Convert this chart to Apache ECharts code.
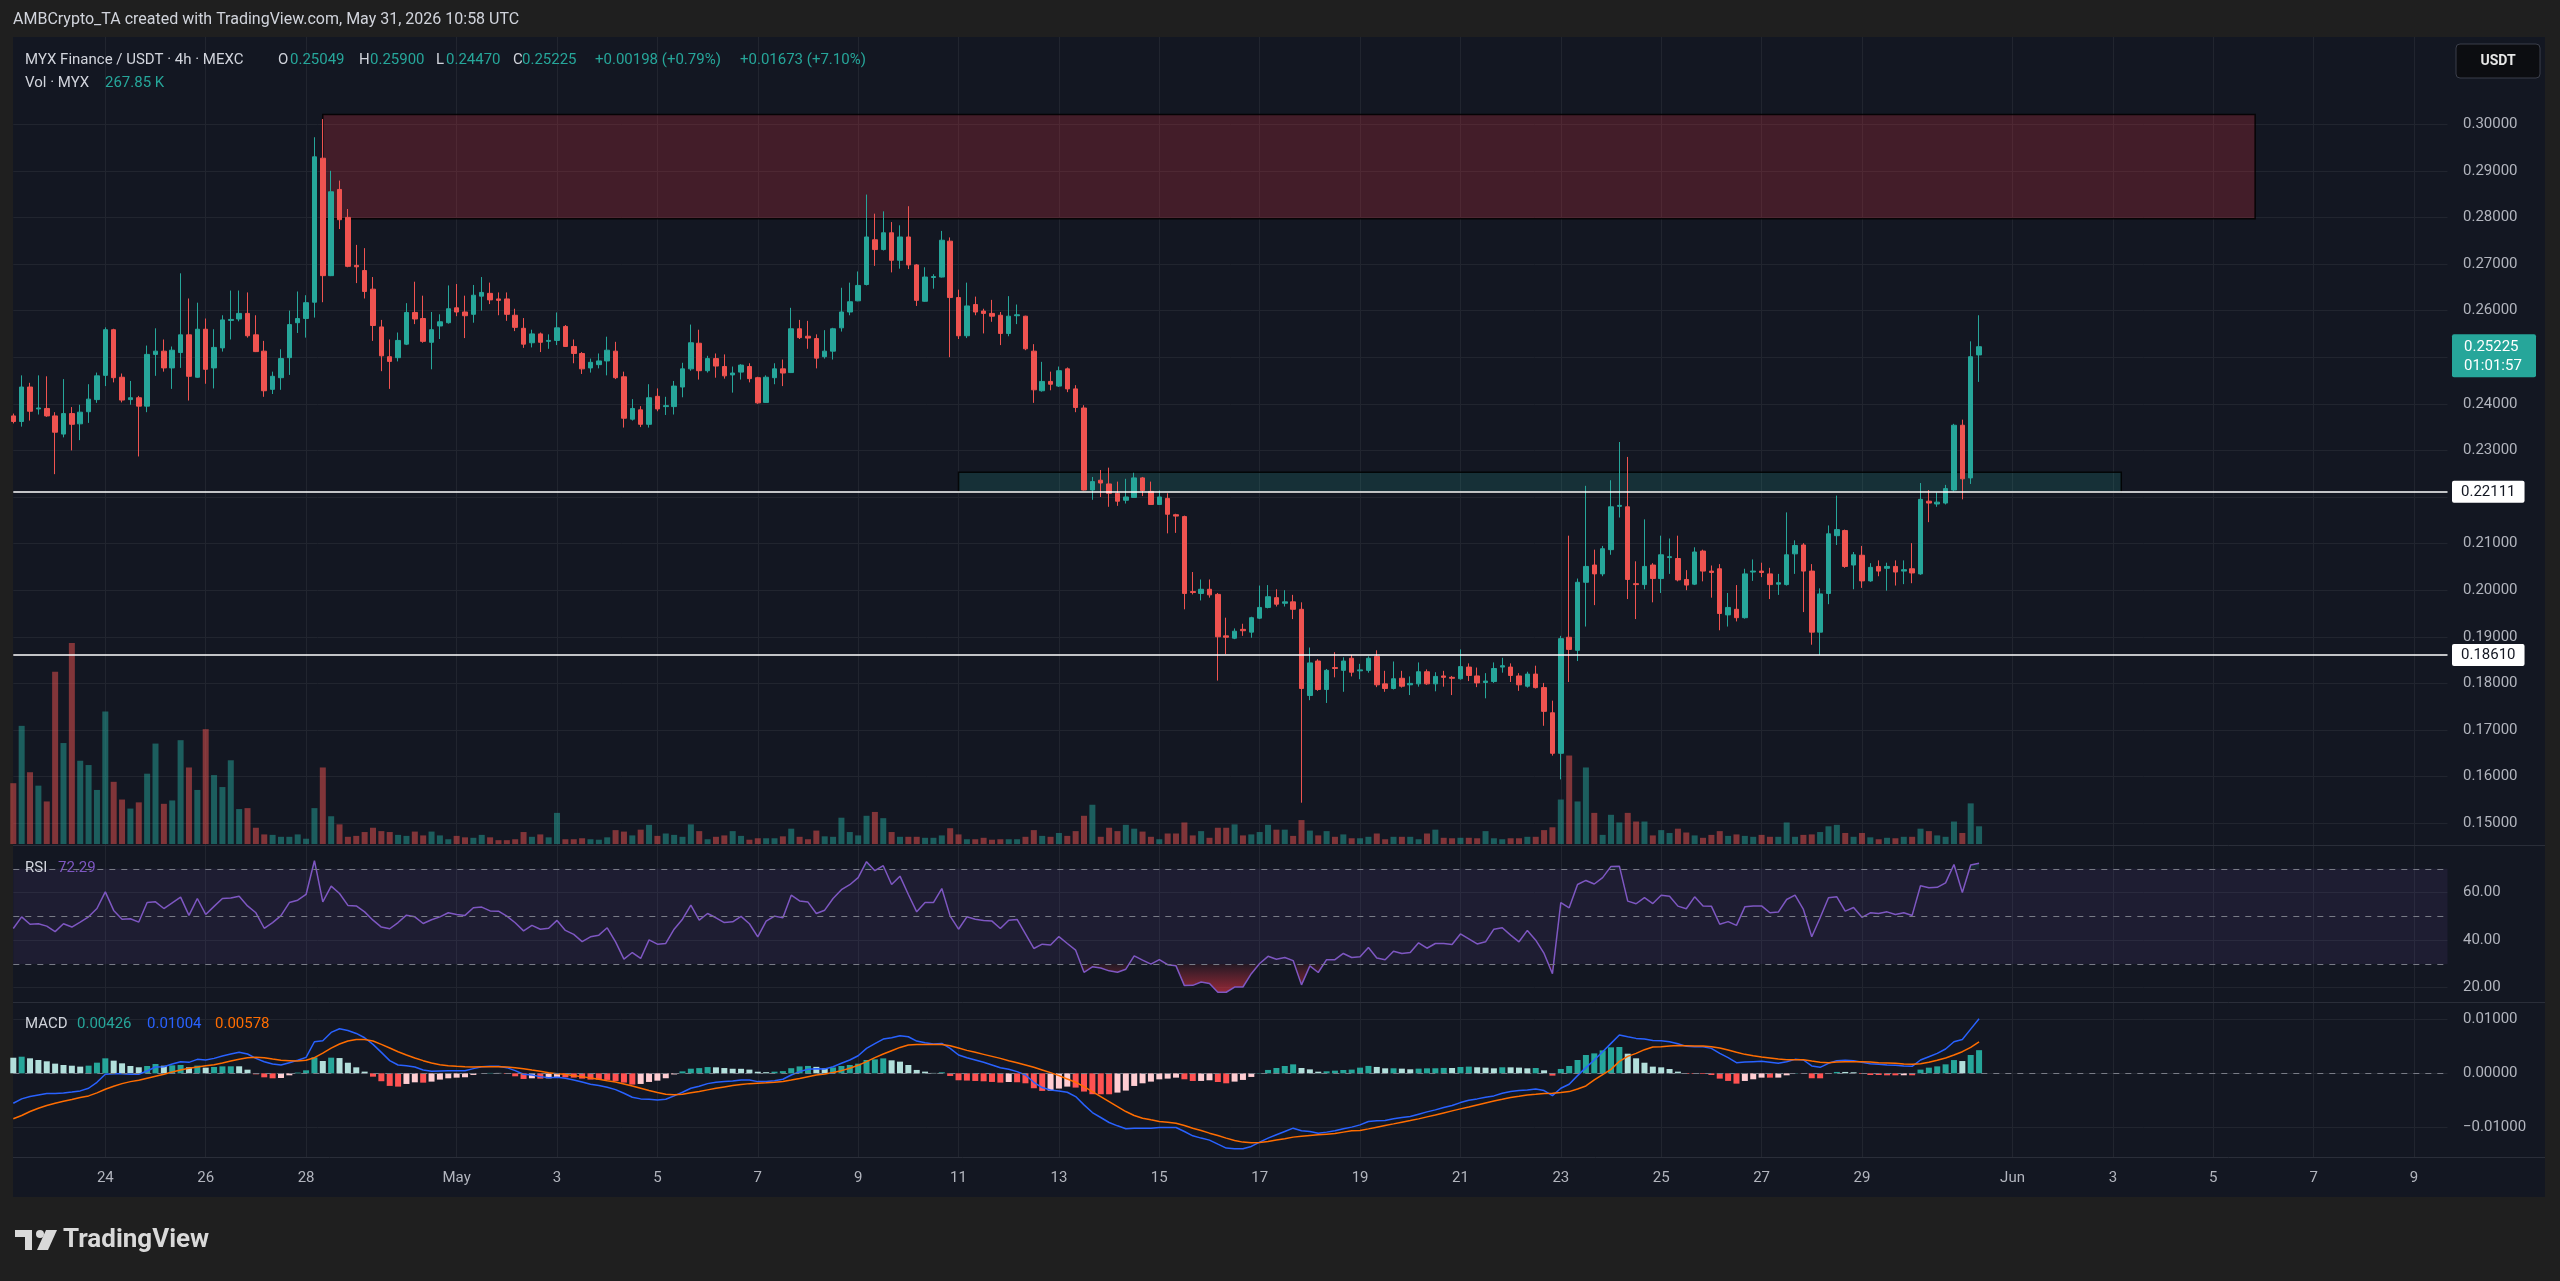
<!DOCTYPE html>
<html><head><meta charset="utf-8">
<script src="https://cdn.jsdelivr.net/npm/echarts@6/dist/echarts.min.js"></script>
<style>html,body{margin:0;padding:0;background:#1f1f1f;}#c{width:2560px;height:1281px;}</style>
</head><body><div id="c"></div>
<script>
// ---------------- DATA ----------------
const FIRST_BAR_UTC = Date.UTC(2026, 3, 22, 4);   // first 4h slot shown
const SLOT_COUNT = 292;                           // slots on the time axis (incl. empty future)
const tickDates = ['2026-04-24 00:00','2026-04-26 00:00','2026-04-28 00:00','2026-05-01 00:00','2026-05-03 00:00','2026-05-05 00:00','2026-05-07 00:00','2026-05-09 00:00','2026-05-11 00:00','2026-05-13 00:00','2026-05-15 00:00','2026-05-17 00:00','2026-05-19 00:00','2026-05-21 00:00','2026-05-23 00:00','2026-05-25 00:00','2026-05-27 00:00','2026-05-29 00:00','2026-06-01 00:00','2026-06-03 00:00','2026-06-05 00:00','2026-06-07 00:00','2026-06-09 00:00'];
const tickLabels = ['24','26','28','May','3','5','7','9','11','13','15','17','19','21','23','25','27','29','Jun','3','5','7','9'];
const priceTicks = [0.15,0.16,0.17,0.18,0.19,0.20,0.21,0.22,0.23,0.24,0.25,0.26,0.27,0.28,0.29,0.30];
const rsiTicks = [20,40,60];
const macdTicks = [-0.01,0,0.01];

const openP = [0.2374,
0.2362,0.2436,0.2389,0.2390,0.2374,0.2335,0.2379,0.2357,0.2383,0.2409,
0.2461,0.2559,0.2457,0.2409,0.2413,0.2395,0.2506,0.2513,0.2477,0.2510,
0.2548,0.2457,0.2560,0.2477,0.2520,0.2579,0.2582,0.2594,0.2548,0.2513,
0.2431,0.2456,0.2499,0.2574,0.2583,0.2618,0.2927,0.2675,0.2860,0.2800,
0.2697,0.2686,0.2646,0.2565,0.2501,0.2499,0.2528,0.2596,0.2583,0.2532,
0.2567,0.2574,0.2606,0.2597,0.2592,0.2631,0.2637,0.2625,0.2625,0.2590,
0.2562,0.2531,0.2550,0.2534,0.2536,0.2566,0.2523,0.2508,0.2477,0.2484,
0.2492,0.2513,0.2458,0.2367,0.2387,0.2356,0.2416,0.2394,0.2394,0.2436,
0.2475,0.2530,0.2471,0.2497,0.2480,0.2462,0.2468,0.2480,0.2456,0.2403,
0.2456,0.2475,0.2467,0.2561,0.2545,0.2540,0.2501,0.2513,0.2563,0.2597,
0.2621,0.2656,0.2752,0.2731,0.2767,0.2708,0.2758,0.2698,0.2620,0.2671,
0.2672,0.2749,0.2628,0.2546,0.2613,0.2599,0.2594,0.2590,0.2551,0.2589,
0.2588,0.2513,0.2428,0.2448,0.2438,0.2475,0.2432,0.2391,0.2215,0.2236,
0.2228,0.2208,0.2193,0.2199,0.2241,0.2212,0.2184,0.2197,0.2162,0.2158,
0.1997,0.1993,0.2002,0.1991,0.1902,0.1897,0.1916,0.1910,0.1940,0.1963,
0.1984,0.1972,0.1975,0.1959,0.1774,0.1848,0.1787,0.1834,0.1828,0.1854,
0.1827,0.1828,0.1858,0.1799,0.1789,0.1811,0.1797,0.1799,0.1825,0.1799,
0.1816,0.1813,0.1810,0.1835,0.1816,0.1802,0.1804,0.1835,0.1835,0.1816,
0.1794,0.1820,0.1791,0.1737,0.1650,0.1899,0.1871,0.2017,0.2054,0.2035,
0.2087,0.2180,0.2179,0.2014,0.2012,0.2054,0.2025,0.2070,0.2068,0.2023,
0.2013,0.2084,0.2041,0.2046,0.1947,0.1959,0.1941,0.2039,0.2041,0.2035,
0.2013,0.2012,0.2078,0.2097,0.2041,0.1910,0.1993,0.2117,0.2128,0.2054,
0.2075,0.2020,0.2051,0.2047,0.2051,0.2041,0.2046,0.2035,0.2191,0.2185,
0.2187,0.2215,0.2354,0.2241,0.25049];
const highP = [0.2379,
0.2461,0.2445,0.2461,0.2459,0.2382,0.2453,0.2393,0.2398,0.2442,0.2467,
0.2564,0.2561,0.2465,0.2449,0.2417,0.2525,0.2562,0.2538,0.2523,0.2680,
0.2626,0.2617,0.2583,0.2560,0.2590,0.2643,0.2643,0.2639,0.2590,0.2535,
0.2469,0.2517,0.2600,0.2641,0.2633,0.2972,0.3011,0.2900,0.2879,0.2818,
0.2741,0.2734,0.2672,0.2580,0.2538,0.2553,0.2616,0.2662,0.2632,0.2597,
0.2592,0.2654,0.2657,0.2632,0.2655,0.2672,0.2660,0.2639,0.2639,0.2604,
0.2584,0.2559,0.2553,0.2549,0.2596,0.2569,0.2538,0.2511,0.2497,0.2508,
0.2544,0.2533,0.2469,0.2410,0.2395,0.2442,0.2433,0.2415,0.2449,0.2488,
0.2570,0.2559,0.2503,0.2508,0.2506,0.2480,0.2485,0.2487,0.2458,0.2461,
0.2487,0.2495,0.2606,0.2580,0.2578,0.2549,0.2558,0.2563,0.2649,0.2660,
0.2684,0.2849,0.2808,0.2813,0.2790,0.2783,0.2824,0.2700,0.2693,0.2678,
0.2771,0.2757,0.2645,0.2660,0.2630,0.2604,0.2623,0.2597,0.2631,0.2613,
0.2589,0.2528,0.2490,0.2469,0.2480,0.2478,0.2440,0.2397,0.2243,0.2258,
0.2263,0.2233,0.2239,0.2252,0.2243,0.2233,0.2214,0.2208,0.2164,0.2160,
0.2039,0.2023,0.2023,0.1994,0.1941,0.1918,0.1928,0.1943,0.2010,0.2011,
0.2002,0.2000,0.1990,0.1974,0.1877,0.1852,0.1831,0.1867,0.1856,0.1861,
0.1842,0.1858,0.1871,0.1827,0.1847,0.1827,0.1815,0.1845,0.1830,0.1824,
0.1827,0.1816,0.1873,0.1843,0.1834,0.1822,0.1845,0.1855,0.1843,0.1822,
0.1825,0.1838,0.1801,0.1763,0.1902,0.2117,0.2025,0.2224,0.2087,0.2095,
0.2236,0.2318,0.2286,0.2062,0.2152,0.2058,0.2117,0.2111,0.2117,0.2043,
0.2092,0.2087,0.2053,0.2056,0.1994,0.2011,0.2046,0.2066,0.2059,0.2048,
0.2035,0.2167,0.2107,0.2101,0.2056,0.2004,0.2139,0.2203,0.2130,0.2082,
0.2095,0.2058,0.2064,0.2059,0.2064,0.2064,0.2101,0.2230,0.2215,0.2210,
0.2226,0.2357,0.2366,0.2534,0.25900];
const lowP = [0.2358,
0.2351,0.2364,0.2377,0.2372,0.2249,0.2328,0.2300,0.2322,0.2359,0.2402,
0.2438,0.2446,0.2403,0.2398,0.2287,0.2382,0.2460,0.2469,0.2432,0.2477,
0.2407,0.2456,0.2443,0.2433,0.2512,0.2538,0.2577,0.2542,0.2511,0.2415,
0.2421,0.2430,0.2462,0.2552,0.2542,0.2585,0.2618,0.2674,0.2775,0.2693,
0.2659,0.2626,0.2535,0.2470,0.2432,0.2491,0.2526,0.2571,0.2531,0.2474,
0.2539,0.2572,0.2588,0.2541,0.2574,0.2600,0.2614,0.2590,0.2578,0.2556,
0.2520,0.2521,0.2511,0.2518,0.2526,0.2522,0.2487,0.2464,0.2467,0.2476,
0.2461,0.2453,0.2349,0.2364,0.2350,0.2349,0.2384,0.2376,0.2377,0.2414,
0.2471,0.2452,0.2467,0.2456,0.2454,0.2424,0.2452,0.2446,0.2400,0.2402,
0.2442,0.2438,0.2466,0.2539,0.2518,0.2476,0.2497,0.2495,0.2555,0.2590,
0.2620,0.2654,0.2696,0.2729,0.2682,0.2690,0.2689,0.2610,0.2619,0.2647,
0.2671,0.2500,0.2539,0.2541,0.2590,0.2551,0.2576,0.2526,0.2545,0.2571,
0.2515,0.2402,0.2426,0.2429,0.2436,0.2425,0.2382,0.2214,0.2194,0.2200,
0.2179,0.2181,0.2186,0.2198,0.2202,0.2183,0.2183,0.2122,0.2123,0.1959,
0.1991,0.1978,0.1984,0.1806,0.1863,0.1895,0.1902,0.1898,0.1938,0.1961,
0.1965,0.1965,0.1938,0.1544,0.1764,0.1784,0.1758,0.1813,0.1782,0.1815,
0.1809,0.1823,0.1792,0.1782,0.1787,0.1791,0.1775,0.1793,0.1797,0.1783,
0.1793,0.1775,0.1808,0.1805,0.1792,0.1768,0.1801,0.1823,0.1803,0.1784,
0.1791,0.1789,0.1709,0.1645,0.1594,0.1803,0.1848,0.1922,0.1968,0.2030,
0.2076,0.2156,0.1981,0.1938,0.2002,0.1974,0.1994,0.2035,0.2019,0.2000,
0.2011,0.2019,0.1984,0.1914,0.1922,0.1933,0.1939,0.2020,0.2028,0.1981,
0.1990,0.2010,0.2035,0.1953,0.1883,0.1861,0.1970,0.2097,0.2048,0.2002,
0.2005,0.2018,0.2030,0.1999,0.2010,0.2013,0.2015,0.2033,0.2146,0.2179,
0.2184,0.2212,0.2195,0.2228,0.24470];
const closeP = [0.2362,
0.2436,0.2384,0.2391,0.2374,0.2339,0.2379,0.2356,0.2382,0.2410,0.2460,
0.2559,0.2456,0.2408,0.2413,0.2395,0.2506,0.2513,0.2477,0.2515,0.2548,
0.2459,0.2560,0.2474,0.2521,0.2580,0.2581,0.2594,0.2546,0.2512,0.2428,
0.2459,0.2497,0.2570,0.2583,0.2617,0.2930,0.2675,0.2855,0.2795,0.2695,
0.2694,0.2641,0.2568,0.2503,0.2491,0.2536,0.2596,0.2582,0.2534,0.2559,
0.2576,0.2604,0.2597,0.2589,0.2633,0.2639,0.2623,0.2622,0.2592,0.2564,
0.2528,0.2550,0.2532,0.2536,0.2563,0.2523,0.2508,0.2475,0.2489,0.2492,
0.2515,0.2456,0.2369,0.2390,0.2356,0.2413,0.2389,0.2396,0.2438,0.2475,
0.2531,0.2471,0.2497,0.2481,0.2460,0.2466,0.2483,0.2454,0.2402,0.2457,
0.2475,0.2466,0.2561,0.2542,0.2541,0.2498,0.2513,0.2561,0.2597,0.2619,
0.2654,0.2758,0.2731,0.2767,0.2708,0.2758,0.2698,0.2622,0.2672,0.2673,
0.2751,0.2628,0.2546,0.2610,0.2597,0.2594,0.2588,0.2551,0.2588,0.2591,
0.2518,0.2430,0.2448,0.2442,0.2471,0.2432,0.2392,0.2215,0.2233,0.2230,
0.2208,0.2191,0.2200,0.2241,0.2214,0.2184,0.2200,0.2163,0.2159,0.1993,
0.1995,0.2002,0.1990,0.1900,0.1899,0.1912,0.1913,0.1941,0.1963,0.1986,
0.1970,0.1975,0.1959,0.1789,0.1844,0.1787,0.1828,0.1832,0.1848,0.1824,
0.1829,0.1854,0.1797,0.1789,0.1810,0.1794,0.1800,0.1825,0.1799,0.1815,
0.1813,0.1811,0.1836,0.1817,0.1801,0.1805,0.1832,0.1838,0.1817,0.1797,
0.1820,0.1791,0.1740,0.1650,0.1896,0.1873,0.2017,0.2051,0.2035,0.2089,
0.2179,0.2182,0.2023,0.2012,0.2051,0.2025,0.2076,0.2072,0.2022,0.2011,
0.2082,0.2041,0.2038,0.1950,0.1963,0.1941,0.2035,0.2041,0.2038,0.2012,
0.2016,0.2076,0.2096,0.2041,0.1910,0.1992,0.2121,0.2130,0.2051,0.2076,
0.2020,0.2049,0.2041,0.2051,0.2039,0.2044,0.2037,0.2195,0.2187,0.2189,
0.2218,0.2354,0.2239,0.2501,0.25225];
// volume in thousands of MYX
const volumeK = [920,
1788,1086,883,644,2606,1528,3041,1260,1195,818,
2005,941,673,536,630,1064,1520,608,659,1571,
1158,818,1738,1043,862,1267,529,543,246,145,
138,109,109,145,80,543,1158,420,297,109,
123,181,246,195,181,138,123,188,130,188,
130,72,123,101,94,138,101,58,58,72,
181,109,145,101,471,72,72,87,72,65,
101,210,188,130,217,290,123,159,138,109,
297,195,72,109,130,195,123,65,87,87,
87,116,232,109,72,203,116,109,398,181,
130,427,485,391,181,109,109,109,94,94,
130,239,145,72,72,94,65,72,72,72,
109,210,123,109,167,123,195,427,594,109,
246,195,290,232,188,109,72,159,159,326,
130,195,94,246,246,297,130,145,181,290,
217,217,123,362,203,130,195,109,145,87,
87,109,159,72,109,109,109,72,159,217,
94,87,94,94,87,195,87,72,87,87,
109,109,210,253,673,1339,644,1158,471,138,
442,326,471,340,340,130,210,167,232,174,
130,94,138,195,123,145,123,109,138,109,
109,326,109,138,145,181,268,290,167,109,
167,101,72,94,87,109,109,232,195,130,
109,340,167,615,267.85];
const rsi = [44.9,
49.8,46.7,46.9,45.9,43.6,46.9,45.5,47.6,49.8,53.3,
60.3,52.5,48.8,49.0,47.6,55.8,56.1,53.3,55.7,58.1,
50.4,57.5,50.8,54.2,57.5,57.7,58.5,54.4,51.5,45.0,
47.4,50.3,55.8,56.8,59.2,73.4,56.1,62.7,59.6,54.6,
54.4,51.9,48.4,45.5,44.8,47.4,50.5,49.8,47.0,48.6,
49.8,51.5,50.8,50.4,53.6,53.9,52.3,52.2,50.1,47.3,
43.9,46.2,44.6,45.0,48.3,44.1,42.4,39.4,41.4,42.1,
45.2,39.3,32.0,34.8,32.3,40.1,38.3,38.6,44.6,48.8,
54.7,48.4,51.2,49.4,47.4,47.7,50.0,46.9,41.4,48.0,
50.1,49.4,58.9,56.5,56.0,51.2,52.6,57.5,61.2,63.3,
66.3,73.0,69.2,71.3,63.4,66.9,59.2,51.9,55.8,55.8,
61.7,50.1,44.6,49.8,48.8,48.3,48.0,44.9,48.4,48.7,
42.6,36.5,38.3,38.0,41.5,38.6,35.8,26.5,28.8,28.3,
27.1,26.5,27.8,33.4,31.6,29.9,31.8,29.7,29.2,20.9,
21.0,22.4,21.8,18.1,18.1,20.3,20.3,25.9,30.2,33.2,
32.0,32.7,31.4,21.2,29.2,26.4,31.8,31.8,34.4,32.7,
33.0,36.9,32.5,31.8,35.3,34.4,34.8,38.9,36.6,38.6,
38.6,38.2,42.6,40.5,38.4,39.3,44.6,45.2,42.1,39.3,
44.1,40.0,34.4,25.9,55.8,53.6,63.4,65.1,63.6,66.3,
71.0,71.1,56.4,55.3,57.9,55.4,58.9,58.5,54.3,53.2,
58.2,54.4,54.3,46.7,47.8,46.2,54.0,54.4,54.4,51.5,
51.8,57.1,58.9,52.9,41.4,49.4,57.8,58.2,52.2,53.7,
49.6,51.5,51.2,51.9,50.8,51.5,50.4,62.9,62.0,62.2,
64.1,71.8,60.0,71.6,72.29];
const macdLine = [-0.00551,
-0.00471,-0.00428,-0.00398,-0.00373,-0.00373,-0.00361,-0.00343,-0.00324,-0.00275,-0.00165,
-0.00018,-0.00006,-0.00006,-0.00018,-0.00018,0.00043,0.00116,0.00122,0.00171,0.00214,
0.00202,0.00257,0.00245,0.00275,0.00318,0.00355,0.00386,0.00355,0.00275,0.00214,
0.00171,0.00153,0.00196,0.00239,0.00294,0.00581,0.00600,0.00753,0.00820,0.00789,
0.00734,0.00655,0.00532,0.00386,0.00233,0.00153,0.00141,0.00116,0.00061,0.00037,
0.00043,0.00049,0.00049,0.00049,0.00086,0.00122,0.00129,0.00129,0.00104,0.00049,
-0.00018,-0.00031,-0.00061,-0.00080,-0.00073,-0.00092,-0.00122,-0.00159,-0.00202,-0.00226,
-0.00257,-0.00300,-0.00367,-0.00441,-0.00471,-0.00477,-0.00490,-0.00477,-0.00416,-0.00349,
-0.00275,-0.00239,-0.00190,-0.00165,-0.00153,-0.00141,-0.00122,-0.00122,-0.00153,-0.00153,
-0.00135,-0.00110,-0.00031,0.00031,0.00073,0.00086,0.00080,0.00122,0.00184,0.00245,
0.00324,0.00459,0.00545,0.00630,0.00655,0.00692,0.00673,0.00594,0.00563,0.00539,
0.00551,0.00459,0.00337,0.00288,0.00245,0.00202,0.00153,0.00104,0.00073,0.00031,
-0.00031,-0.00165,-0.00263,-0.00306,-0.00324,-0.00349,-0.00428,-0.00581,-0.00722,-0.00814,
-0.00906,-0.00967,-0.01022,-0.01010,-0.01010,-0.01010,-0.00998,-0.00998,-0.00998,-0.01071,
-0.01151,-0.01193,-0.01230,-0.01304,-0.01377,-0.01389,-0.01389,-0.01346,-0.01267,-0.01193,
-0.01132,-0.01071,-0.01010,-0.01059,-0.01071,-0.01102,-0.01083,-0.01059,-0.01022,-0.00991,
-0.00949,-0.00887,-0.00875,-0.00869,-0.00838,-0.00814,-0.00796,-0.00753,-0.00710,-0.00673,
-0.00630,-0.00594,-0.00539,-0.00496,-0.00471,-0.00441,-0.00416,-0.00367,-0.00337,-0.00318,
-0.00306,-0.00288,-0.00318,-0.00410,-0.00275,-0.00202,-0.00043,0.00104,0.00245,0.00398,
0.00551,0.00704,0.00673,0.00643,0.00630,0.00606,0.00600,0.00581,0.00545,0.00496,
0.00490,0.00490,0.00459,0.00367,0.00288,0.00196,0.00208,0.00214,0.00220,0.00202,
0.00184,0.00214,0.00257,0.00245,0.00135,0.00110,0.00184,0.00233,0.00239,0.00233,
0.00202,0.00177,0.00165,0.00153,0.00147,0.00135,0.00129,0.00245,0.00306,0.00367,
0.00447,0.00581,0.00624,0.00814,0.01004];
const signalLine = [-0.00838,
-0.00777,-0.00704,-0.00643,-0.00594,-0.00551,-0.00514,-0.00483,-0.00447,-0.00416,-0.00361,
-0.00294,-0.00239,-0.00190,-0.00153,-0.00129,-0.00092,-0.00055,-0.00018,0.00024,0.00061,
0.00092,0.00116,0.00141,0.00159,0.00190,0.00226,0.00257,0.00288,0.00294,0.00288,
0.00263,0.00239,0.00233,0.00226,0.00239,0.00288,0.00373,0.00465,0.00539,0.00594,
0.00624,0.00624,0.00594,0.00532,0.00465,0.00398,0.00337,0.00282,0.00233,0.00190,
0.00159,0.00141,0.00129,0.00122,0.00116,0.00122,0.00122,0.00122,0.00116,0.00104,
0.00086,0.00061,0.00037,0.00012,-0.00006,-0.00018,-0.00043,-0.00061,-0.00086,-0.00110,
-0.00135,-0.00159,-0.00196,-0.00233,-0.00275,-0.00318,-0.00355,-0.00386,-0.00395,-0.00385,
-0.00360,-0.00335,-0.00305,-0.00275,-0.00250,-0.00225,-0.00205,-0.00190,-0.00182,-0.00174,
-0.00165,-0.00150,-0.00125,-0.00096,-0.00063,-0.00033,-0.00012,0.00014,0.00049,0.00092,
0.00147,0.00214,0.00288,0.00355,0.00416,0.00477,0.00520,0.00532,0.00532,0.00532,
0.00532,0.00508,0.00465,0.00422,0.00386,0.00349,0.00312,0.00275,0.00233,0.00196,
0.00153,0.00110,0.00061,0.00012,-0.00043,-0.00104,-0.00165,-0.00245,-0.00337,-0.00428,
-0.00520,-0.00612,-0.00704,-0.00777,-0.00826,-0.00857,-0.00887,-0.00900,-0.00918,-0.00961,
-0.01010,-0.01053,-0.01102,-0.01144,-0.01193,-0.01236,-0.01267,-0.01279,-0.01273,-0.01255,
-0.01230,-0.01206,-0.01175,-0.01157,-0.01144,-0.01132,-0.01120,-0.01108,-0.01083,-0.01059,
-0.01053,-0.01023,-0.00992,-0.00961,-0.00931,-0.00900,-0.00870,-0.00839,-0.00802,-0.00766,
-0.00729,-0.00692,-0.00655,-0.00619,-0.00582,-0.00545,-0.00508,-0.00478,-0.00447,-0.00423,
-0.00398,-0.00386,-0.00373,-0.00367,-0.00355,-0.00337,-0.00288,-0.00233,-0.00122,-0.00024,
0.00073,0.00220,0.00312,0.00367,0.00435,0.00483,0.00490,0.00502,0.00514,0.00508,
0.00502,0.00502,0.00490,0.00465,0.00428,0.00386,0.00349,0.00324,0.00300,0.00282,
0.00263,0.00251,0.00251,0.00251,0.00226,0.00202,0.00196,0.00208,0.00214,0.00214,
0.00214,0.00208,0.00196,0.00190,0.00184,0.00171,0.00165,0.00177,0.00202,0.00239,
0.00282,0.00337,0.00398,0.00477,0.00578];
const histogram = [0.00287,
0.00306,0.00276,0.00245,0.00221,0.00178,0.00153,0.00140,0.00123,0.00141,0.00196,
0.00276,0.00233,0.00184,0.00135,0.00111,0.00135,0.00171,0.00140,0.00147,0.00153,
0.00110,0.00141,0.00104,0.00116,0.00128,0.00129,0.00129,0.00067,-0.00019,-0.00074,
-0.00092,-0.00086,-0.00037,0.00013,0.00055,0.00293,0.00227,0.00288,0.00281,0.00195,
0.00110,0.00031,-0.00062,-0.00146,-0.00232,-0.00245,-0.00196,-0.00166,-0.00172,-0.00153,
-0.00116,-0.00092,-0.00080,-0.00073,-0.00030,0,0.00007,0.00007,-0.00012,-0.00055,
-0.00104,-0.00092,-0.00098,-0.00092,-0.00067,-0.00074,-0.00079,-0.00098,-0.00116,-0.00116,
-0.00122,-0.00141,-0.00171,-0.00208,-0.00196,-0.00159,-0.00135,-0.00091,-0.00021,0.00036,
0.00085,0.00096,0.00115,0.00110,0.00097,0.00084,0.00083,0.00068,0.00029,0.00021,
0.00030,0.00040,0.00094,0.00127,0.00136,0.00119,0.00092,0.00108,0.00135,0.00153,
0.00177,0.00245,0.00257,0.00275,0.00239,0.00215,0.00153,0.00062,0.00031,0.00007,
0.00019,-0.00049,-0.00128,-0.00134,-0.00141,-0.00147,-0.00159,-0.00171,-0.00160,-0.00165,
-0.00184,-0.00275,-0.00324,-0.00318,-0.00281,-0.00245,-0.00263,-0.00336,-0.00385,-0.00386,
-0.00386,-0.00355,-0.00318,-0.00233,-0.00184,-0.00153,-0.00111,-0.00098,-0.00080,-0.00110,
-0.00141,-0.00140,-0.00128,-0.00160,-0.00184,-0.00153,-0.00122,-0.00067,0.00006,0.00062,
0.00098,0.00135,0.00165,0.00098,0.00073,0.00030,0.00037,0.00049,0.00061,0.00068,
0.00104,0.00136,0.00117,0.00092,0.00093,0.00086,0.00074,0.00086,0.00092,0.00093,
0.00099,0.00098,0.00116,0.00123,0.00111,0.00104,0.00092,0.00111,0.00110,0.00105,
0.00092,0.00098,0.00055,-0.00043,0.00080,0.00135,0.00245,0.00337,0.00367,0.00422,
0.00478,0.00484,0.00361,0.00276,0.00195,0.00123,0.00110,0.00079,0.00031,-0.00012,
-0.00012,-0.00012,-0.00031,-0.00098,-0.00140,-0.00190,-0.00141,-0.00110,-0.00080,-0.00080,
-0.00079,-0.00037,0.00006,-0.00006,-0.00091,-0.00092,-0.00012,0.00025,0.00025,0.00019,
-0.00012,-0.00031,-0.00031,-0.00037,-0.00037,-0.00036,-0.00036,0.00068,0.00104,0.00128,
0.00165,0.00244,0.00226,0.00337,0.00426];

// drawings
const supplyZone = {from:'2026-04-28 08:00', to:'2026-06-05 20:00', low:0.2797, high:0.3021};
const demandZone = {from:'2026-05-11 00:00', to:'2026-06-03 04:00', low:0.2210, high:0.2253};
const levelLines = [0.22111, 0.18610];
const countdown = '01:01:57';

// ---------------- CHART ----------------
const FONT = 'Roboto, "Noto Sans", "DejaVu Sans", sans-serif';
const pad = n => String(n).padStart(2,'0');
const categories = [];
for (let i = 0; i < SLOT_COUNT; i++) {
  const d = new Date(FIRST_BAR_UTC + i*4*3600*1000);
  categories.push(d.getUTCFullYear()+'-'+pad(d.getUTCMonth()+1)+'-'+pad(d.getUTCDate())+' '+pad(d.getUTCHours())+':00');
}
const tickMap = {}; tickDates.forEach((d,i)=>tickMap[d]=tickLabels[i]);
const isTick = (i,v) => tickMap[v] !== undefined;

const UP='#26a69a', DOWN='#ef5350', GRIDC='#21252f', AXT='#b2b5be';
const L = 13.3, W = 2434.2;

function xAx(gi, labels, split){
  return {type:'category', gridIndex:gi, data:categories, boundaryGap:false,
    axisLine:{show:false}, axisTick:{show:false},
    axisLabel:{show:labels, interval:isTick, formatter:v=>tickMap[v]||'', color:AXT, fontSize:15, fontFamily:FONT, margin:14},
    splitLine:{show:split, interval:isTick, lineStyle:{color:GRIDC, width:1}}};
}
function yAx(gi, min, max, ticks, fmt){
  return {type:'value', gridIndex:gi, position:'right', min, max,
    axisLine:{show:false},
    axisTick:{show:false, customValues:ticks},
    axisLabel:{customValues:ticks, formatter:fmt, color:AXT, fontSize:15, fontFamily:FONT, margin:15.5},
    splitLine:{show:true, customValues:ticks, lineStyle:{color:GRIDC, width:1}}};
}

const last = closeP.length-1;
const candleData = openP.map((o,i)=>[o, closeP[i], lowP[i], highP[i]]);
const volData = volumeK.map((v,i)=>({value:v, itemStyle:{color: closeP[i]>=openP[i] ? 'rgba(38,166,154,0.5)' : 'rgba(239,83,80,0.5)'}}));
const histData = histogram.map((v,i)=>{
  const prev = i>0 ? histogram[i-1] : v;
  const c = v>=0 ? (v>prev ? '#26a69a' : '#b2dfdb') : (v>prev ? '#ffcdd2' : '#ff5252');
  return {value:v, itemStyle:{color:c}};
});
const macdFmt = v => (v<0?'\u2212':'') + Math.abs(v).toFixed(5);

const T = (id,x,y,text,color,size,extra) => ({type:'text', id, x, y, z:100, silent:true,
  style:Object.assign({text, fill:color, font:size+'px '+FONT, verticalAlign:'middle', align:'left'}, extra||{})});

const graphics = [
  {type:'rect', id:'panel', z:-100, silent:true, shape:{x:13,y:37,width:2532,height:1160}, style:{fill:'#131722'}},
  {type:'line', id:'sep1', z:20, silent:true, shape:{x1:13,y1:845.5,x2:2545,y2:845.5}, style:{stroke:'#2a2e39', lineWidth:1}},
  {type:'line', id:'sep2', z:20, silent:true, shape:{x1:13,y1:1002.5,x2:2545,y2:1002.5}, style:{stroke:'#2a2e39', lineWidth:1}},
  {type:'line', id:'sep3', z:20, silent:true, shape:{x1:13,y1:1157.5,x2:2545,y2:1157.5}, style:{stroke:'#2a2e39', lineWidth:1}},
  {type:'rect', id:'usdtBox', z:100, silent:true, shape:{x:2456,y:44,width:84,height:34,r:4}, style:{fill:'#0c0d11', stroke:'#3a3e4a', lineWidth:1}},
  T('usdt',2498,61,'USDT','#e6e6e6',14,{align:'center', font:'bold 14px '+FONT}),
  T('hdr',13,20,'AMBCrypto_TA created with TradingView.com, May 31, 2026 10:58 UTC','#d1d4dc',16),
  T('sym',25,60,'MYX Finance / USDT \u00b7 4h \u00b7 MEXC','#d1d4dc',15),
  T('oL',278,60,'O','#d1d4dc',15), T('oV',290,60,openP[last].toFixed(5),UP,15),
  T('hL',359,60,'H','#d1d4dc',15), T('hV',370,60,highP[last].toFixed(5),UP,15),
  T('lL',436,60,'L','#d1d4dc',15), T('lV',446,60,lowP[last].toFixed(5),UP,15),
  T('cL',513,60,'C','#d1d4dc',15), T('cV',522,60,closeP[last].toFixed(5),UP,15),
  T('chg1',595,60,'+0.00198 (+0.79%)',UP,15),
  T('chg2',740,60,'+0.01673 (+7.10%)',UP,15),
  T('volL',25,83,'Vol \u00b7 MYX','#d1d4dc',15), T('volV',105,83,volumeK[last].toFixed(2)+' K',UP,15),
  T('rsiL',25,868,'RSI','#d1d4dc',15), T('rsiV',58,868,rsi[last].toFixed(2),'#7e57c2',15),
  T('macdL',25,1024,'MACD','#d1d4dc',15),
  T('macdH',77,1024,histogram[last].toFixed(5),UP,15),
  T('macdM',147,1024,macdLine[last].toFixed(5),'#2962ff',15),
  T('macdS',215,1024,signalLine[last].toFixed(5),'#ff6d00',15),
  // TradingView logo
  {type:'rect', id:'lg1', z:100, silent:true, shape:{x:15,y:1230,width:17,height:7}, style:{fill:'#d9d9d9'}},
  {type:'rect', id:'lg2', z:100, silent:true, shape:{x:25,y:1230,width:7,height:20}, style:{fill:'#d9d9d9'}},
  {type:'circle', id:'lg3', z:100, silent:true, shape:{cx:40,cy:1234,r:4}, style:{fill:'#d9d9d9'}},
  {type:'polygon', id:'lg4', z:100, silent:true, shape:{points:[[37,1250],[46,1230],[57,1230],[48,1250]]}, style:{fill:'#d9d9d9'}},
  T('lgT',63,1240,'TradingView','#d9d9d9',26,{font:'bold 26px '+FONT})
];

const chart = echarts.init(document.getElementById('c'), null, {renderer:'canvas', width:2560, height:1281});
chart.setOption({
  animation:false,
  backgroundColor:'#1f1f1f',
  textStyle:{fontFamily:FONT},
  grid:[
    {left:L, top:37, width:W, height:808},
    {left:L, top:544, width:W, height:300},
    {left:L, top:845, width:W, height:157},
    {left:L, top:1002, width:W, height:155}
  ],
  xAxis:[ xAx(0,false,true), xAx(1,false,false), xAx(2,false,true), xAx(3,true,true) ],
  yAxis:[
    yAx(0, 0.145322, 0.318712, priceTicks, v=>v.toFixed(5)),
    {type:'value', gridIndex:1, min:0, max:4540, show:false, splitLine:{show:false}},
    yAx(2, 14.0, 80.0, rsiTicks, v=>v.toFixed(2)),
    yAx(3, -0.01541, 0.01313, macdTicks, macdFmt)
  ],
  series:[
    {type:'candlestick', id:'price', xAxisIndex:0, yAxisIndex:0, z:3, clip:true,
     data:candleData, barWidth:5,
     itemStyle:{color:UP, color0:DOWN, borderColor:UP, borderColor0:DOWN, borderWidth:1},
     markArea:{silent:true, precision:5, data:[
       [{xAxis:supplyZone.from, yAxis:supplyZone.high, itemStyle:{color:'rgba(242,54,69,0.22)', borderColor:'rgba(0,0,0,0.85)', borderWidth:1.5}},
        {xAxis:supplyZone.to, yAxis:supplyZone.low}],
       [{xAxis:demandZone.from, yAxis:demandZone.high, itemStyle:{color:'rgba(38,166,154,0.18)', borderColor:'rgba(0,0,0,0.85)', borderWidth:1.5}},
        {xAxis:demandZone.to, yAxis:demandZone.low}]
     ]},
     markLine:{silent:true, symbol:'none', precision:5, animation:false,
       lineStyle:{color:'#ffffff', width:1.5, type:'solid'},
       label:{show:true, position:'end', distance:4.5, formatter:p=>Number(p.value).toFixed(5),
              backgroundColor:'#ffffff', color:'#131722', fontSize:15, fontFamily:FONT, padding:[4,9,3,9], borderRadius:2},
       data:levelLines.map(v=>({yAxis:v}))}
    },
    {type:'bar', id:'volume', xAxisIndex:1, yAxisIndex:1, z:1, data:volData, barWidth:6, silent:true},
    {type:'line', id:'rsiOS', xAxisIndex:2, yAxisIndex:2, z:1, data:rsi, symbol:'none', silent:true,
     lineStyle:{opacity:0, width:0}, areaStyle:{origin:'end', opacity:1, color:'rgba(0,0,0,0)'}},
    {type:'line', id:'rsiOB', xAxisIndex:2, yAxisIndex:2, z:1, data:rsi, symbol:'none', silent:true,
     lineStyle:{opacity:0, width:0}, areaStyle:{origin:'start', opacity:1, color:'rgba(0,0,0,0)'}},
    {type:'line', id:'rsi', xAxisIndex:2, yAxisIndex:2, z:4, data:rsi, symbol:'none', silent:true,
     lineStyle:{color:'#7e57c2', width:1.5}, itemStyle:{color:'#7e57c2'},
     markArea:{silent:true, itemStyle:{color:'rgba(126,87,194,0.1)'}, data:[[{yAxis:30},{yAxis:70}]]},
     markLine:{silent:true, symbol:'none', label:{show:false},
       lineStyle:{color:'#787b86', width:1, type:[6,6]}, data:[{yAxis:70},{yAxis:50},{yAxis:30}]}},
    {type:'bar', id:'hist', xAxisIndex:3, yAxisIndex:3, z:2, data:histData, barWidth:6, silent:true,
     markLine:{silent:true, symbol:'none', label:{show:false},
       lineStyle:{color:'#787b86', width:1, type:[6,6]}, data:[{yAxis:0}]}},
    {type:'line', id:'macd', xAxisIndex:3, yAxisIndex:3, z:4, data:macdLine, symbol:'none', silent:true,
     lineStyle:{color:'#2962ff', width:1.5}, itemStyle:{color:'#2962ff'}},
    {type:'line', id:'signal', xAxisIndex:3, yAxisIndex:3, z:4, data:signalLine, symbol:'none', silent:true,
     lineStyle:{color:'#ff6d00', width:1.5}, itemStyle:{color:'#ff6d00'}}
  ],
  graphic:graphics
});

// Second pass: things positioned through the axes' own scales
const yTop = chart.convertToPixel({yAxisIndex:2}, 80);
const yBot = chart.convertToPixel({yAxisIndex:2}, 14);
const p30 = (chart.convertToPixel({yAxisIndex:2}, 30) - yTop) / (yBot - yTop);
const p70 = (chart.convertToPixel({yAxisIndex:2}, 70) - yTop) / (yBot - yTop);
const py = chart.convertToPixel({yAxisIndex:0}, closeP[last]);
chart.setOption({
  series:[
    {id:'rsiOS', areaStyle:{color:{type:'linear', global:true, x:0, y:yTop, x2:0, y2:yBot, colorStops:[
      {offset:0, color:'rgba(242,54,69,0)'}, {offset:p30, color:'rgba(242,54,69,0)'},
      {offset:p30, color:'rgba(242,54,69,0.08)'}, {offset:1, color:'rgba(242,54,69,0.75)'}]}}},
    {id:'rsiOB', areaStyle:{color:{type:'linear', global:true, x:0, y:yTop, x2:0, y2:yBot, colorStops:[
      {offset:0, color:'rgba(38,166,154,0.6)'}, {offset:p70, color:'rgba(38,166,154,0.08)'},
      {offset:p70, color:'rgba(38,166,154,0)'}, {offset:1, color:'rgba(38,166,154,0)'}]}}}
  ],
  graphic:[
    {type:'rect', id:'lastBox', z:110, silent:true, shape:{x:2452,y:py-12.5,width:84,height:43,r:2}, style:{fill:UP}},
    {type:'text', id:'lastP', x:2464, y:py+1, z:111, silent:true, style:{text:closeP[last].toFixed(5), fill:'#ffffff', font:'15px '+FONT, verticalAlign:'middle', align:'left'}},
    {type:'text', id:'lastT', x:2464, y:py+20, z:111, silent:true, style:{text:countdown, fill:'#ffffff', font:'15px '+FONT, verticalAlign:'middle', align:'left'}}
  ]
});
</script></body></html>
